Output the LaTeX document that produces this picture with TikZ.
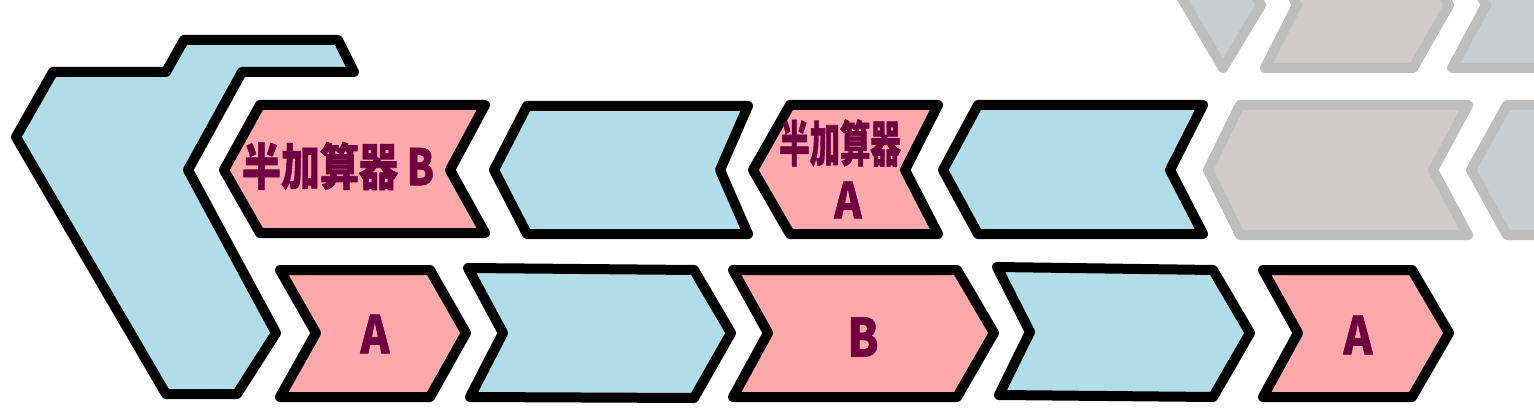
\documentclass[tikz,border=0pt]{standalone}
\usepackage{fontspec}
\usepackage{graphicx}
\newfontfamily\cjk{Noto Sans CJK JP}[BoldFeatures={FakeBold=1.2}]
\definecolor{pinkc}{HTML}{FDA8AB}
\definecolor{bluec}{HTML}{B0DDE8}
\definecolor{labelc}{HTML}{6E0040}
\definecolor{ghostline}{HTML}{BEBEBE}
\definecolor{ghostpink}{HTML}{D0CACB}
\definecolor{ghostblue}{HTML}{C8CDCF}
\begin{document}
\begin{tikzpicture}[x=1pt,y=-1pt,line join=round,
  shp/.style={line width=10pt,draw=black},
  pinkshape/.style={shp,fill=pinkc},
  blueshape/.style={shp,fill=bluec},
  ghostp/.style={line width=10pt,draw=ghostline,fill=ghostpink},
  ghostb/.style={line width=10pt,draw=ghostline,fill=ghostblue},
  lbl/.style={text=labelc,font=\cjk\bfseries,inner sep=0pt}]
\useasboundingbox (0,0) rectangle (1534,409);
\clip (0,0) rectangle (1534,409);
\fill[white] (0,0) rectangle (1534,409);

% ghost shapes, top row
\path[ghostb] (1171,-20) -- (1223,68) -- (1261,5) -- (1247,-20) -- cycle;
\path[ghostp] (1283,-20) -- (1297,5) -- (1265,68) -- (1413,68) -- (1449,5) -- (1435,-20) -- cycle;
\path[ghostb] (1472,-20) -- (1486,5) -- (1452,68) -- (1560,68) -- (1560,-20) -- cycle;
% ghost shapes, middle row
\path[ghostp] (1208,170) -- (1240,105) -- (1468,105) -- (1433,170) -- (1468,235) -- (1240,235) -- cycle;
\path[ghostb] (1471,170) -- (1507,105) -- (1560,105) -- (1560,235) -- (1507,235) -- cycle;

% big left shape
\path[blueshape] (16,137) -- (53,72) -- (166,72) -- (184,40) -- (338,40) -- (354,72) -- (242,72)
  -- (188,170) -- (276,333) -- (237,394) -- (166,394) -- cycle;

% middle row (pointing left)
\path[pinkshape] (224,170) -- (260,105) -- (485,105) -- (450,170) -- (485,233) -- (260,233) -- cycle;
\path[blueshape] (494,170) -- (527,106) -- (748,106) -- (720,170) -- (748,234) -- (527,234) -- cycle;
\path[pinkshape] (753,170) -- (790,105) -- (938,105) -- (905,170) -- (938,234) -- (790,234) -- cycle;
\path[blueshape] (943,170) -- (978,105) -- (1203,105) -- (1170,170) -- (1203,234) -- (978,234) -- cycle;

% bottom row (pointing right)
\path[pinkshape] (280,270) -- (430,270) -- (466,333) -- (430,397) -- (280,397) -- (316,333) -- cycle;
\path[blueshape] (468,268) -- (694,270) -- (731,333) -- (694,398) -- (470,397) -- (503,333) -- cycle;
\path[pinkshape] (733,270) -- (957,270) -- (994,333) -- (957,397) -- (733,397) -- (768,333) -- cycle;
\path[blueshape] (997,267) -- (1213,270) -- (1250,333) -- (1213,397) -- (999,395) -- (1030,332) -- cycle;
\path[pinkshape] (1263,270) -- (1412,270) -- (1449,333) -- (1412,397) -- (1263,397) -- (1298,333) -- cycle;

% labels
\node[lbl] (hb) at (338,166) {\scalebox{0.78}[1]{\fontsize{50}{50}\selectfont 半加算器 B}};
\node[lbl] (ha1) at (840,143) {\scalebox{0.62}[1]{\fontsize{49}{49}\selectfont 半加算器}};
\node[lbl] (ha2) at (848,200) {\scalebox{0.85}[1]{\fontsize{49}{49}\selectfont A}};
\node[lbl] (a1) at (375,334) {\scalebox{0.85}[1]{\fontsize{52}{52}\selectfont A}};
\node[lbl] (b1) at (863,337) {\scalebox{0.85}[1]{\fontsize{53}{53}\selectfont B}};
\node[lbl] (a2) at (1358,335) {\scalebox{0.85}[1]{\fontsize{52}{52}\selectfont A}};
\end{tikzpicture}
\end{document}
